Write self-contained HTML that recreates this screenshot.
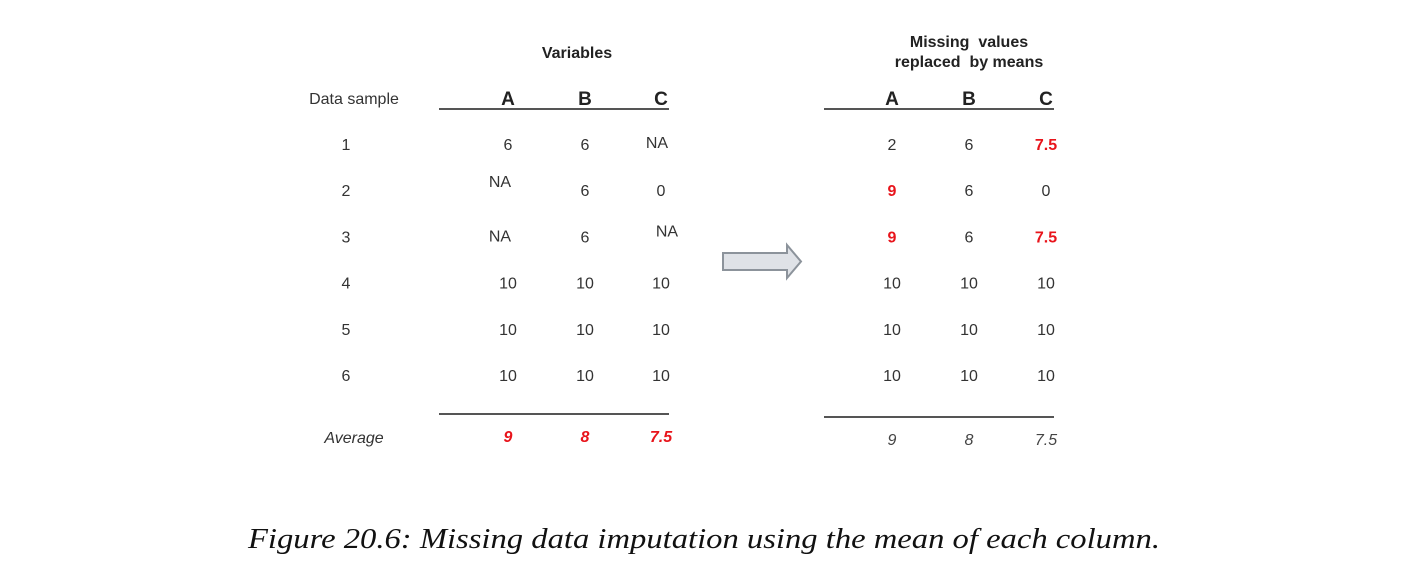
<!DOCTYPE html>
<html><head><meta charset="utf-8"><style>
html,body{margin:0;padding:0;background:#fff;}
svg{display:block;}
text{font-family:"Liberation Sans",sans-serif;}
</style></head><body>
<svg id="fig" width="1406" height="584" viewBox="0 0 1406 584">
<text x="577" y="58" font-size="16" font-weight="bold" fill="#222" text-anchor="middle">Variables</text>
<text x="969" y="47" font-size="16" font-weight="bold" fill="#222" text-anchor="middle" xml:space="preserve">Missing  values</text>
<text x="969" y="67" font-size="16" font-weight="bold" fill="#222" text-anchor="middle" xml:space="preserve">replaced  by means</text>
<text x="354" y="104" font-size="16" fill="#333" text-anchor="middle">Data sample</text>
<line x1="439" y1="109" x2="669" y2="109" stroke="#555" stroke-width="2"/>
<line x1="439" y1="414" x2="669" y2="414" stroke="#555" stroke-width="2"/>
<line x1="824" y1="109" x2="1054" y2="109" stroke="#555" stroke-width="2"/>
<line x1="824" y1="417" x2="1054" y2="417" stroke="#555" stroke-width="2"/>
<polygon points="723,253 787,253 787,245 801,261.5 787,278 787,270 723,270" fill="#dfe2e7" stroke="#8c939b" stroke-width="2"/>
<text x="248" y="548" font-size="28" font-style="italic" fill="#111" textLength="912" lengthAdjust="spacingAndGlyphs" style="font-family:'Liberation Serif',serif">Figure 20.6: Missing data imputation using the mean of each column.</text>
<g id="cells"></g>
</svg>
<script>
const columns = ["A","B","C"];
const samples = ["1","2","3","4","5","6"];
const original = [["6","6","NA"],["NA","6","0"],["NA","6","NA"],["10","10","10"],["10","10","10"],["10","10","10"]];
const imputed = [["2","6","7.5"],["9","6","0"],["9","6","7.5"],["10","10","10"],["10","10","10"],["10","10","10"]];
const imputedFlags = [[0,0,1],[1,0,0],[1,0,1],[0,0,0],[0,0,0],[0,0,0]];
const averages = ["9","8","7.5"];

const NS = "http://www.w3.org/2000/svg";
const g = document.getElementById('cells');
const leftX = [508,585,661], rightX = [892,969,1046];
const rowY = i => 144 + i*46.2;
function txt(x,y,s,opt){
  const t = document.createElementNS(NS,'text');
  t.setAttribute('x',x); t.setAttribute('y',y);
  t.setAttribute('text-anchor','middle');
  t.setAttribute('font-size',opt.size||16);
  t.setAttribute('fill',opt.fill||'#333');
  if(opt.bold) t.setAttribute('font-weight','bold');
  if(opt.italic) t.setAttribute('font-style','italic');
  t.textContent = s;
  g.appendChild(t);
  return t;
}
columns.forEach((c,j)=>{
  let t = txt(leftX[j],105,c,{size:19,bold:true,fill:'#222'});
  
  
  t = txt(rightX[j],105,c,{size:19,bold:true,fill:'#222'});
  
  
});
samples.forEach((s,i)=>{
  const t = txt(346,rowY(i)+6,s,{});
  
  
});
const naOffset = {"0,2":[-4,-2],"1,0":[-8,-9],"2,0":[-8,-1],"2,2":[6,-6]};
original.forEach((row,i)=>row.forEach((v,j)=>{
  let dx=0,dy=0;
  const k=i+","+j;
  if(v==="NA"&&naOffset[k]){dx=naOffset[k][0];dy=naOffset[k][1];}
  const t = txt(leftX[j]+dx,rowY(i)+6+dy,v,{});
  
  
}));
imputed.forEach((row,i)=>row.forEach((v,j)=>{
  const f = imputedFlags[i][j];
  const t = txt(rightX[j],rowY(i)+6,v,f?{bold:true,fill:'#e8141b'}:{});
  
  
}));
let at = txt(354,443,'Average',{italic:true});


averages.forEach((v,j)=>{
  let t = txt(leftX[j],442,v,{italic:true,bold:true,fill:'#e8141b'});
  
  
  t = txt(rightX[j],445,v,{italic:true,fill:'#444'});
  
  
});
</script>
</body></html>
